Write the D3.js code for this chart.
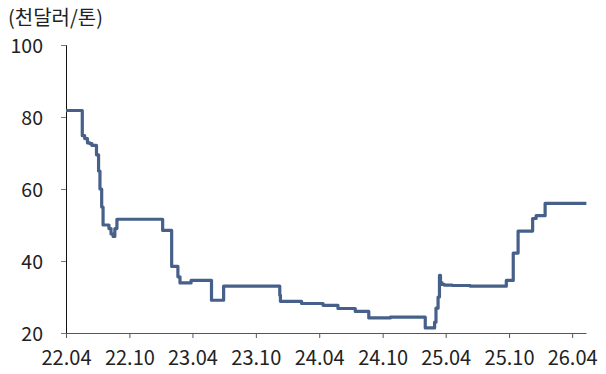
<!DOCTYPE html>
<html>
<head>
<meta charset="utf-8">
<script src="https://cdn.jsdelivr.net/npm/d3@7/dist/d3.min.js"></script>
<style>
  html, body { margin: 0; padding: 0; background: #fff; }
  svg { display: block; }
  text { font-family: "Noto Sans CJK KR", "Noto Sans", sans-serif; fill: #222; }
</style>
</head>
<body>
<svg id="chart" width="606" height="374"></svg>
<script>
// Price series (thousand USD per ton), step changes
const dates = [
  "2022-04-01","2022-05-18","2022-05-25","2022-06-02","2022-06-09","2022-06-15",
  "2022-06-28","2022-07-04","2022-07-08","2022-07-13","2022-07-17","2022-08-03",
  "2022-08-09","2022-08-15","2022-08-20","2022-08-26","2023-01-05","2023-01-31",
  "2023-02-18","2023-02-24","2023-03-28","2023-05-26","2023-06-30","2023-12-09",
  "2023-12-11","2024-02-10","2024-04-12","2024-05-25","2024-07-14","2024-08-22",
  "2024-10-23","2025-02-01","2025-02-28","2025-03-04","2025-03-10","2025-03-14",
  "2025-03-17","2025-03-21","2025-03-28","2025-04-20","2025-06-11","2025-09-23",
  "2025-10-13","2025-10-27","2025-12-08","2025-12-18","2026-01-13","2026-05-12"
];
const values = [
  81.8, 74.8, 74.0, 72.8, 72.6, 72.1,
  69.5, 65.0, 60.0, 55.0, 50.0, 49.0,
  47.5, 46.8, 49.0, 51.6, 48.5, 38.5,
  35.6, 33.9, 34.6, 29.1, 33.0, 30.5,
  28.8, 28.2, 27.7, 26.8, 26.0, 24.2,
  24.4, 21.4, 23.0, 26.9, 30.0, 36.0,
  34.0, 33.5, 33.3, 33.2, 33.0, 34.6,
  42.2, 48.3, 51.8, 52.6, 56.0, 56.0
];
const yTicks = [20, 40, 60, 80, 100];
const xTickDates = ["2022-04-01","2022-10-01","2023-04-01","2023-10-01","2024-04-01",
                    "2024-10-01","2025-04-01","2025-10-01","2026-04-01"];
const unitLabel = "(천달러/톤)";

const parse = d3.utcParse("%Y-%m-%d");
const series = dates.map((d, i) => ({ date: parse(d), value: values[i] }));

const svg = d3.select("#chart");
const plotLeft = 66, plotRight = 586, plotTop = 45, plotBottom = 333;

const x = d3.scaleUtc()
  .domain([parse("2022-04-01"), parse("2026-05-11")])
  .range([plotLeft, plotRight]);
const y = d3.scaleLinear().domain([20, 100]).range([plotBottom, plotTop]);

// Unit label
svg.append("text")
  .attr("x", 8).attr("y", 25)
  .attr("font-size", 20)
  .text(unitLabel);

// Y axis
const yAxis = svg.append("g")
  .attr("transform", `translate(${plotLeft},0)`)
  .call(d3.axisLeft(y).tickValues(yTicks).tickSize(5).tickPadding(18).tickFormat(d3.format("d")));
yAxis.select(".domain").attr("stroke", "#111");
yAxis.selectAll(".tick line").attr("stroke", "#777");
yAxis.selectAll(".tick text").attr("font-size", 19.5).attr("fill", "#222").attr("dy", "0.36em");

// X axis
const xAxis = svg.append("g")
  .attr("transform", `translate(0,${plotBottom})`)
  .call(d3.axisBottom(x).tickValues(xTickDates.map(parse)).tickSize(5).tickSizeOuter(0)
    .tickPadding(13).tickFormat(d3.utcFormat("%y.%m")));
xAxis.select(".domain").attr("stroke", "#555");
xAxis.selectAll(".tick line").attr("stroke", "#555");
xAxis.selectAll(".tick text").attr("font-size", 20).attr("fill", "#222");

// Price line
const line = d3.line()
  .x(d => x(d.date))
  .y(d => y(d.value))
  .curve(d3.curveStepAfter);

svg.append("path")
  .datum(series)
  .attr("fill", "none")
  .attr("stroke", "#46608a")
  .attr("stroke-width", 3.2)
  .attr("stroke-linejoin", "round")
  .attr("d", line);
</script>
</body>
</html>
